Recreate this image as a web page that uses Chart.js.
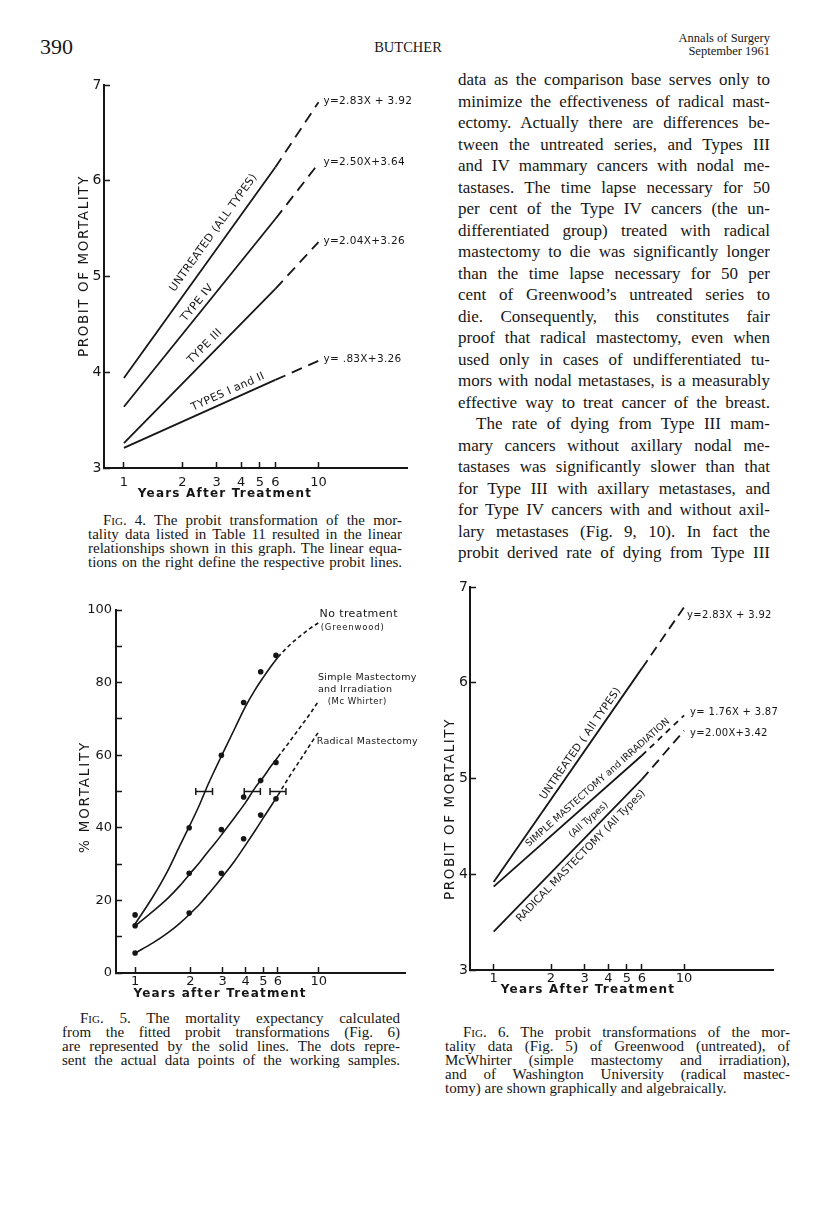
<!DOCTYPE html>
<html>
<head>
<meta charset="utf-8">
<script src="https://cdn.jsdelivr.net/npm/chart.js"></script>
<style>
  body { margin: 0; width: 816px; height: 1205px; background: #fff; position: relative; overflow: hidden;
         font-family: "Liberation Serif", serif; color: #161616; }
  canvas { position: absolute; }
  .col { position: absolute; left: 458px; top: 69px; width: 312px; font-size: 17px; line-height: 21.5px; }
  .col div, .cap div { text-align: justify; text-align-last: justify; }
  .cap { position: absolute; font-size: 15px; line-height: 14px; }
  .cap div.last { text-align-last: left; }
  .ind { text-indent: 18px; }
  .sc { font-variant: small-caps; }
  .hdr { position: absolute; }
</style>
</head>
<body>

<div class="hdr" style="left:40px;top:34px;font-size:22px;">390</div>
<div class="hdr" style="left:358px;width:100px;text-align:center;top:39px;font-size:14.5px;">BUTCHER</div>
<div class="hdr" style="right:46px;top:32px;font-size:12.5px;line-height:13px;text-align:right;">Annals of Surgery<br>September 1961</div>

<div class="col">
  <div>data as the comparison base serves only to</div>
  <div>minimize the effectiveness of radical mast-</div>
  <div>ectomy. Actually there are differences be-</div>
  <div>tween the untreated series, and Types III</div>
  <div>and IV mammary cancers with nodal me-</div>
  <div>tastases. The time lapse necessary for 50</div>
  <div>per cent of the Type IV cancers (the un-</div>
  <div>differentiated group) treated with radical</div>
  <div>mastectomy to die was significantly longer</div>
  <div>than the time lapse necessary for 50 per</div>
  <div>cent of Greenwood’s untreated series to</div>
  <div>die. Consequently, this constitutes fair</div>
  <div>proof that radical mastectomy, even when</div>
  <div>used only in cases of undifferentiated tu-</div>
  <div>mors with nodal metastases, is a measurably</div>
  <div>effective way to treat cancer of the breast.</div>
  <div class="ind">The rate of dying from Type III mam-</div>
  <div>mary cancers without axillary nodal me-</div>
  <div>tastases was significantly slower than that</div>
  <div>for Type III with axillary metastases, and</div>
  <div>for Type IV cancers with and without axil-</div>
  <div>lary metastases (Fig. 9, 10). In fact the</div>
  <div>probit derived rate of dying from Type III</div>
</div>

<div class="cap" style="left:88px;top:513px;width:314px;">
  <div class="ind" style="text-indent:15px"><span class="sc">Fig.</span> 4. The probit transformation of the mor-</div>
  <div>tality data listed in Table 11 resulted in the linear</div>
  <div>relationships shown in this graph. The linear equa-</div>
  <div>tions on the right define the respective probit lines.</div>
</div>

<div class="cap" style="left:62px;top:1011px;width:338px;">
  <div class="ind"><span class="sc">Fig.</span> 5. The mortality expectancy calculated</div>
  <div>from the fitted probit transformations (Fig. 6)</div>
  <div>are represented by the solid lines. The dots repre-</div>
  <div>sent the actual data points of the working samples.</div>
</div>

<div class="cap" style="left:445px;top:1025px;width:345px;">
  <div class="ind"><span class="sc">Fig.</span> 6. The probit transformations of the mor-</div>
  <div>tality data (Fig. 5) of Greenwood (untreated), of</div>
  <div>McWhirter (simple mastectomy and irradiation),</div>
  <div>and of Washington University (radical mastec-</div>
  <div class="last">tomy) are shown graphically and algebraically.</div>
</div>

<canvas id="fig4" width="380" height="450" style="left:40px;top:60px;"></canvas>
<canvas id="fig5" width="380" height="420" style="left:40px;top:590px;"></canvas>
<canvas id="fig6" width="380" height="430" style="left:420px;top:570px;"></canvas>

<script>
const INK = '#161616';
const SANS = '"DejaVu Sans", sans-serif';
const tickYears = [1, 2, 3, 4, 5, 6, 10];

// Fig. 4 - probit lines (value at 1, 6 and 10 years)
const fig4Years = [1, 6, 10];
const fig4Untreated = [3.94, 6.14, 6.82];
const fig4TypeIV = [3.64, 5.60, 6.18];
const fig4TypeIII = [3.26, 4.87, 5.36];
const fig4TypesIandII = [3.21, 3.92, 4.12];
const fig4Names = ['UNTREATED (ALL TYPES)', 'TYPE IV', 'TYPE III', 'TYPES I and II'];
const fig4Equations = ['y=2.83X + 3.92', 'y=2.50X+3.64', 'y=2.04X+3.26', 'y= .83X+3.26'];

// Fig. 5 - % mortality curves and sample points
const fig5Years = [1, 1.25, 1.5, 1.75, 2, 2.25, 2.5, 2.75, 3, 3.5, 4, 4.5, 5, 5.5, 6, 7, 8, 9, 10];
const fig5NoTreatment = [13.5, 21, 28, 35, 41, 46.5, 52, 56.5, 60.5, 67.5, 73.5, 78, 81.5, 84.5, 87, 90.5, 93, 95, 96.5];
const fig5Simple = [13, 17, 20.5, 24, 27.5, 30.5, 33.5, 36, 38.5, 43, 47, 51, 54, 57, 59.5, 64, 68, 71.5, 75];
const fig5Radical = [5.5, 8.3, 11, 13.7, 16.4, 19, 21.7, 24.2, 26.6, 31, 35.3, 39.2, 42.8, 46, 49, 54.5, 59, 63, 66.5];
const fig5SolidUntil = 14;   // index of the 6-year value, dashed beyond
const fig5PointYears = [1, 1.97, 2.95, 3.9, 4.83, 5.85];
const fig5NoTreatmentPts = [16, 40, 60, 74.5, 83, 87.5];
const fig5SimplePts = [13, 27.5, 39.5, 48.5, 53, 58];
const fig5RadicalPts = [5.5, 16.5, 27.5, 37, 43.5, 48];
const fig5Bars = [[2.14, 2.64], [3.93, 4.81], [5.43, 6.63]];   // limits at 50 %
const fig5Names = ['No treatment', '(Greenwood)', 'Simple Mastectomy', 'and Irradiation', '(Mc Whirter)', 'Radical Mastectomy'];

// Fig. 6 - probit lines
const fig6Years = [1, 6, 10];
const fig6Untreated = [3.92, 6.15, 6.79];
const fig6Simple = [3.87, 5.24, 5.66];
const fig6Radical = [3.40, 4.99, 5.50];
const fig6Names = ['UNTREATED ( All TYPES)', 'SIMPLE MASTECTOMY and IRRADIATION', '(All Types)', 'RADICAL MASTECTOMY (All Types)'];
const fig6Equations = ['y=2.83X + 3.92', 'y= 1.76X + 3.87', 'y=2.00X+3.42'];

const pts = (xs, ys) => xs.map((x, i) => ({ x, y: ys[i] }));

// text drawn on top of the plots: labels along lines, equations, free labels, axis titles
const notes = {
  id: 'notes',
  afterDatasetsDraw(chart, args, opts) {
    const ctx = chart.ctx;
    const xs = chart.scales.x, ys = chart.scales.y;
    ctx.save();
    ctx.fillStyle = INK;
    (opts.along || []).forEach(l => {
      const d = chart.getDatasetMeta(l.ds).data;
      const a = d[0], b = d[1];
      const ang = Math.atan2(b.y - a.y, b.x - a.x);
      const px = xs.getPixelForValue(l.at);
      const py = a.y + (px - a.x) * (b.y - a.y) / (b.x - a.x);
      ctx.save();
      ctx.translate(px, py);
      ctx.rotate(ang);
      ctx.font = l.font;
      ctx.letterSpacing = l.ls || '0px';
      ctx.textAlign = 'center';
      ctx.textBaseline = 'middle';
      ctx.fillText(l.text, 0, -l.off);
      ctx.restore();
    });
    (opts.ends || []).forEach(e => {
      const d = chart.getDatasetMeta(e.ds).data;
      const p = d[d.length - 1];
      ctx.font = e.font;
      ctx.letterSpacing = '0.3px';
      ctx.textAlign = 'left';
      ctx.textBaseline = 'middle';
      ctx.fillText(e.text, p.x + e.dx, p.y + e.dy);
    });
    (opts.texts || []).forEach(t => {
      ctx.font = t.font;
      ctx.letterSpacing = t.ls || '0px';
      ctx.textAlign = 'left';
      ctx.textBaseline = 'middle';
      ctx.fillText(t.text, xs.getPixelForValue(t.x), ys.getPixelForValue(t.y));
    });
    (opts.titles || []).forEach(t => {
      ctx.save();
      ctx.translate(t.x, t.y);
      if (t.rot) ctx.rotate(-Math.PI / 2);
      ctx.font = t.font;
      ctx.letterSpacing = t.ls;
      ctx.textAlign = 'center';
      ctx.textBaseline = 'middle';
      ctx.fillText(t.text, 0, 0);
      ctx.restore();
    });
    ctx.restore();
  }
};

function xAxis(min, max, height, pad) {
  return {
    type: 'logarithmic', min, max,
    afterBuildTicks: s => { s.ticks = tickYears.map(v => ({ value: v })); },
    afterFit: s => { s.height = height; },
    border: { color: INK, width: 2 },
    grid: { drawOnChartArea: false, tickLength: -6, tickWidth: 1.5, tickColor: INK },
    ticks: { color: INK, font: { family: SANS, size: 13 }, padding: pad, autoSkip: false, maxRotation: 0,
             callback: v => String(v) }
  };
}

function yAxis(min, max, step, width, pad, size, cb) {
  return {
    min, max,
    afterFit: s => { s.width = width; },
    border: { color: INK, width: 2 },
    grid: { drawOnChartArea: false, tickLength: -6, tickWidth: 1.5, tickColor: INK },
    ticks: { stepSize: step, color: INK, font: { family: SANS, size }, padding: pad, callback: cb }
  };
}

function probitLine(data, dash) {
  return {
    data, borderColor: INK, borderWidth: 1.8, pointRadius: 0, fill: false,
    segment: { borderDash: c => c.p0DataIndex >= 1 ? dash : undefined }
  };
}

function baseOptions(padding, x, y, notesOpts) {
  return {
    responsive: false, animation: false, devicePixelRatio: 1,
    layout: { padding },
    scales: { x, y },
    plugins: { legend: { display: false }, tooltip: { enabled: false }, notes: notesOpts }
  };
}

// ---- Fig. 4 ----
new Chart(document.getElementById('fig4'), {
  type: 'line',
  data: {
    datasets: [
      probitLine(pts(fig4Years, fig4Untreated), [11, 7]),
      probitLine(pts(fig4Years, fig4TypeIV), [11, 7]),
      probitLine(pts(fig4Years, fig4TypeIII), [11, 7]),
      probitLine(pts(fig4Years, fig4TypesIandII), [11, 7])
    ]
  },
  options: baseOptions({ left: 0, top: 25, right: 13, bottom: 0 },
    xAxis(0.79, 28.5, 42, 12.5),
    yAxis(3, 7, 1, 64, 8.5, 14, v => String(v)),
    {
      along: [
        { ds: 0, at: 3.24, off: 12, text: fig4Names[0], font: '11px ' + SANS, ls: '0.3px' },
        { ds: 1, at: 2.57, off: 8, text: fig4Names[1], font: '11px ' + SANS, ls: '0.5px' },
        { ds: 2, at: 2.84, off: 10, text: fig4Names[2], font: '11px ' + SANS, ls: '0.5px' },
        { ds: 3, at: 3.57, off: 8.5, text: fig4Names[3], font: '11px ' + SANS, ls: '0.3px' }
      ],
      ends: fig4Equations.map((text, i) => ({ ds: i, text, dx: 5, dy: -1, font: '10.5px ' + SANS })),
      titles: [
        { text: 'PROBIT OF MORTALITY', x: 44, y: 206, rot: true, font: '13.5px ' + SANS, ls: '1.6px' },
        { text: 'Years After Treatment', x: 185, y: 434, font: 'bold 12px ' + SANS, ls: '1.2px' }
      ]
    }),
  plugins: [notes]
});

// ---- Fig. 5 ----
function curve(data) {
  return {
    data, borderColor: INK, borderWidth: 1.6, pointRadius: 0, fill: false,
    cubicInterpolationMode: 'monotone',
    segment: { borderDash: c => c.p0DataIndex >= fig5SolidUntil ? [4, 3] : undefined }
  };
}
function dots(data) {
  return { data, showLine: false, pointRadius: 2.8, pointBackgroundColor: INK, pointBorderWidth: 0 };
}
function bar(lim) {
  return {
    data: lim.map(x => ({ x, y: 50 })), borderColor: INK, borderWidth: 1.5,
    pointStyle: 'line', rotation: 90, pointRadius: 3.5, pointBorderColor: INK, pointBorderWidth: 1.5
  };
}

new Chart(document.getElementById('fig5'), {
  type: 'line',
  data: {
    datasets: [
      curve(pts(fig5Years, fig5NoTreatment)),
      curve(pts(fig5Years, fig5Simple)),
      curve(pts(fig5Years, fig5Radical)),
      dots(pts(fig5PointYears, fig5NoTreatmentPts)),
      dots(pts(fig5PointYears, fig5SimplePts)),
      dots(pts(fig5PointYears, fig5RadicalPts)),
      ...fig5Bars.map(bar)
    ]
  },
  options: baseOptions({ left: 0, top: 20, right: 15, bottom: 0 },
    xAxis(0.787, 29.5, 37, 7),
    yAxis(0, 100, 10, 76, 10, 13, v => v % 20 === 0 ? String(v) : ''),
    {
      texts: [
        { text: fig5Names[0], x: 10.1, y: 98.9, font: '11px ' + SANS, ls: '0.4px' },
        { text: fig5Names[1], x: 10.25, y: 95, font: '8.5px ' + SANS, ls: '0.8px' },
        { text: fig5Names[2], x: 9.9, y: 81.5, font: '9.5px ' + SANS, ls: '0.3px' },
        { text: fig5Names[3], x: 9.9, y: 78, font: '9.5px ' + SANS, ls: '0.3px' },
        { text: fig5Names[4], x: 11.2, y: 74.7, font: '8.5px ' + SANS, ls: '0.5px' },
        { text: fig5Names[5], x: 9.75, y: 63.9, font: '9.5px ' + SANS, ls: '0.3px' }
      ],
      titles: [
        { text: '% MORTALITY', x: 45, y: 207, rot: true, font: '13.5px ' + SANS, ls: '1.8px' },
        { text: 'Years after Treatment', x: 180, y: 404, font: 'bold 12px ' + SANS, ls: '1.2px' }
      ]
    }),
  plugins: [notes]
});

// ---- Fig. 6 ----
new Chart(document.getElementById('fig6'), {
  type: 'line',
  data: {
    datasets: [
      probitLine(pts(fig6Years, fig6Untreated), [10, 6]),
      probitLine(pts(fig6Years, fig6Simple), [6, 5]),
      probitLine(pts(fig6Years, fig6Radical), [10, 6])
    ]
  },
  options: baseOptions({ left: 0, top: 17, right: 27, bottom: 0 },
    xAxis(0.751, 29.3, 30, 7),
    yAxis(3, 7, 1, 50, 8, 14, v => String(v)),
    {
      along: [
        { ds: 0, at: 3.08, off: 7.5, text: fig6Names[0], font: '10.5px ' + SANS, ls: '0.3px' },
        { ds: 1, at: 3.78, off: 8.8, text: fig6Names[1], font: '9.5px ' + SANS, ls: '0px' },
        { ds: 1, at: 2.84, off: -13, text: fig6Names[2], font: '9.5px ' + SANS, ls: '0px' },
        { ds: 2, at: 2.64, off: -9.7, text: fig6Names[3], font: '10.5px ' + SANS, ls: '0px' }
      ],
      ends: [
        { ds: 0, text: fig6Equations[0], dx: 3, dy: 8, font: '10px ' + SANS },
        { ds: 1, text: fig6Equations[1], dx: 6, dy: -3, font: '10px ' + SANS },
        { ds: 2, text: fig6Equations[2], dx: 6, dy: 3, font: '10px ' + SANS }
      ],
      titles: [
        { text: 'PROBIT OF MORTALITY', x: 30, y: 239, rot: true, font: '13.5px ' + SANS, ls: '1.6px' },
        { text: 'Years After Treatment', x: 168, y: 420, font: 'bold 12px ' + SANS, ls: '1.2px' }
      ]
    }),
  plugins: [notes]
});
</script>
</body>
</html>
